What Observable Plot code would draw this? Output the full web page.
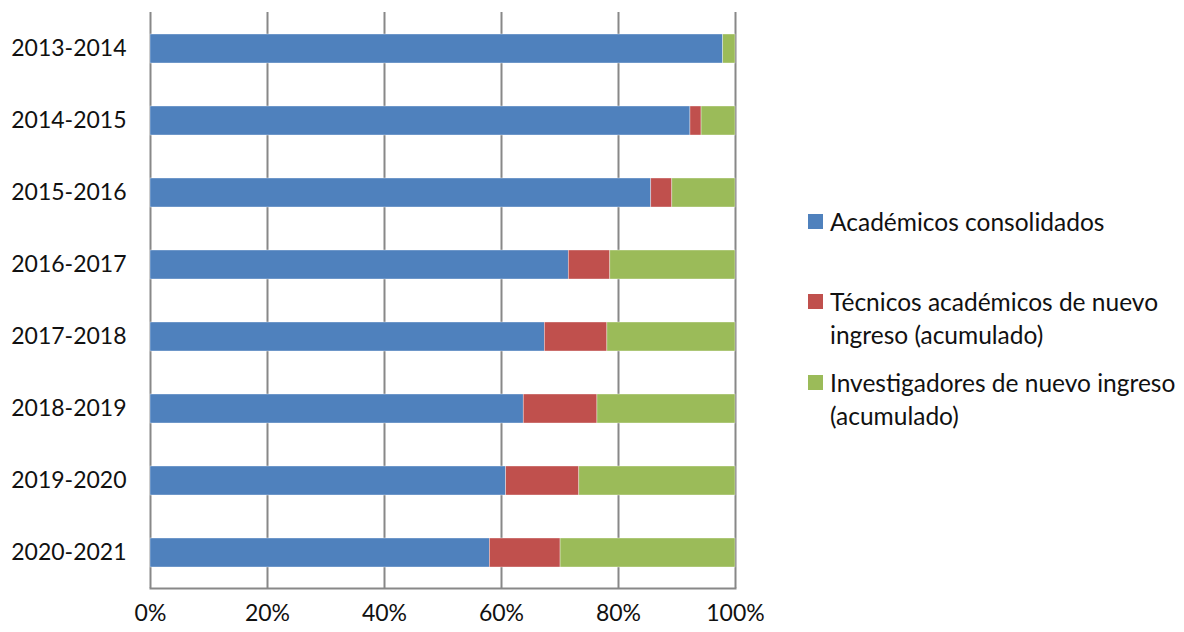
<!DOCTYPE html>
<html>
<head>
<meta charset="utf-8">
<script src="https://cdn.jsdelivr.net/npm/d3@7"></script>
<script src="https://cdn.jsdelivr.net/npm/@observablehq/plot@0.6"></script>
<style>
  html, body { margin: 0; padding: 0; background: #fff; }
  #wrap { position: relative; width: 1184px; height: 632px; font-family: Lato, "Open Sans", sans-serif; }
  #legend { position: absolute; left: 808px; top: 0; font-size: 24.5px; color: #111; line-height: 33px; }
  .item { position: absolute; left: 0; width: 376px; display: flex; white-space: nowrap; }
  .sw { width: 15px; height: 15px; margin-top: 9px; margin-right: 7px; flex: none; }
</style>
</head>
<body>
<div id="wrap"></div>
<script>
const years = ["2013-2014","2014-2015","2015-2016","2016-2017","2017-2018","2018-2019","2019-2020","2020-2021"];
const series = ["Académicos consolidados","Técnicos académicos de nuevo ingreso (acumulado)","Investigadores de nuevo ingreso (acumulado)"];
const colors = ["#4F81BD","#C0504D","#9BBB59"];
const consolidados = [97.9, 92.3, 85.6, 71.5, 67.4, 63.8, 60.8, 58.0];
const tecnicos     = [0.0, 1.9, 3.6, 7.1, 10.7, 12.6, 12.5, 12.1];
const investigadores = [2.1, 5.8, 10.8, 21.4, 21.9, 23.6, 26.7, 29.9];
const xTicks = [0, 20, 40, 60, 80, 100];

const data = [];
years.forEach((y, i) => {
  data.push({year: y, serie: series[0], value: consolidados[i]});
  data.push({year: y, serie: series[1], value: tecnicos[i]});
  data.push({year: y, serie: series[2], value: investigadores[i]});
});

const chart = Plot.plot({
  width: 1184,
  height: 632,
  marginLeft: 150,
  marginRight: 449,
  marginTop: 12,
  marginBottom: 44,
  style: {fontFamily: "Lato, 'Open Sans', sans-serif", fontSize: "23px", color: "#111", background: "#fff"},
  x: {domain: [0, 100], ticks: xTicks, label: null},
  y: {domain: years, paddingInner: 0.6, paddingOuter: 0.3, label: null},
  color: {domain: series, range: colors},
  marks: [
    Plot.ruleX(xTicks, {stroke: "#888", strokeWidth: 2}),
    Plot.frame({anchor: "bottom", stroke: "#888", strokeWidth: 2}),
    Plot.barX(data, {x: "value", y: "year", fill: "serie", order: series, stroke: "#fff", strokeWidth: 0.6, strokeOpacity: 0.6}),
    Plot.axisX({tickSize: 0, tickPadding: 16, tickFormat: d => d + "%", ticks: xTicks, fontSize: 23}),
    Plot.axisY({tickSize: 0, tickPadding: 24, fontSize: 23})
  ]
});
document.getElementById("wrap").appendChild(chart);

const legend = document.createElement("div");
legend.id = "legend";
const tops = [205, 285, 366];
const labels = [
  "Académicos consolidados",
  "Técnicos académicos de nuevo<br>ingreso (acumulado)",
  "Investigadores de nuevo ingreso<br>(acumulado)"
];
labels.forEach((t, i) => {
  const it = document.createElement("div");
  it.className = "item";
  it.style.top = tops[i] + "px";
  it.innerHTML = `<div class="sw" style="background:${colors[i]}"></div><div>${t}</div>`;
  legend.appendChild(it);
});
document.getElementById("wrap").appendChild(legend);
</script>
</body>
</html>
